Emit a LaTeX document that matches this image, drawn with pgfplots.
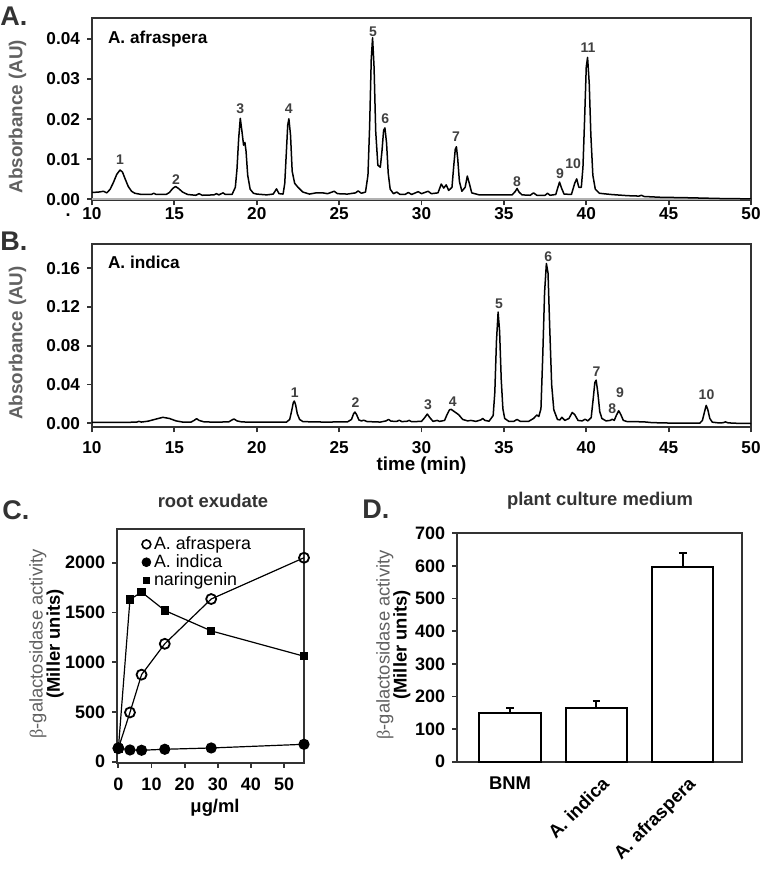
\documentclass[border=0pt]{standalone}
\usepackage{fontspec}
\setmainfont{Liberation Sans}
\newfontfamily\serifgreek{Liberation Serif}
\usepackage{pgfplots}
\pgfplotsset{compat=1.18}
\definecolor{axgray}{gray}{0.2}
\definecolor{labgray}{gray}{0.38}
\definecolor{pkgray}{gray}{0.25}

\pgfplotstableread{
x y
10.0 0.0017
10.4 0.0018
10.7 0.0020
10.9 0.0016
11.1 0.0025
11.3 0.0042
11.5 0.0062
11.7 0.0073
11.85 0.0068
12.0 0.0052
12.2 0.0032
12.4 0.0020
12.6 0.0015
13.0 0.0012
13.6 0.0012
13.75 0.0015
13.9 0.0012
14.5 0.0012
14.7 0.0017
14.9 0.0027
15.07 0.0032
15.25 0.0027
15.5 0.0018
15.8 0.0012
16.3 0.0010
16.5 0.0014
16.7 0.0010
17.4 0.0011
17.55 0.0014
17.7 0.0011
17.95 0.0016
18.1 0.0012
18.5 0.0012
18.7 0.0030
18.8 0.0075
18.9 0.0150
19.0 0.0202
19.1 0.0170
19.2 0.0135
19.28 0.0142
19.35 0.0120
19.45 0.0060
19.6 0.0025
19.8 0.0015
20.0 0.0013
20.6 0.0011
21.0 0.0013
21.2 0.0026
21.35 0.0014
21.6 0.0013
21.7 0.0040
21.8 0.0120
21.88 0.0185
21.95 0.0201
22.05 0.0160
22.15 0.0070
22.3 0.0040
22.5 0.0030
22.8 0.0018
23.2 0.0013
23.6 0.0016
24.0 0.0016
24.3 0.0014
24.7 0.0020
24.9 0.0014
25.5 0.0013
26.0 0.0016
26.15 0.0021
26.35 0.0015
26.6 0.0018
26.75 0.0060
26.85 0.0180
26.95 0.0350
27.03 0.0403
27.12 0.0330
27.22 0.0170
27.35 0.0085
27.5 0.0080
27.6 0.0120
27.7 0.0172
27.78 0.0178
27.88 0.0140
27.98 0.0065
28.1 0.0025
28.3 0.0014
28.5 0.0018
28.7 0.0012
29.0 0.0012
29.2 0.0017
29.4 0.0012
29.8 0.0019
30.0 0.0014
30.4 0.0020
30.6 0.0014
31.0 0.0016
31.2 0.0038
31.35 0.0028
31.5 0.0036
31.65 0.0022
31.85 0.0030
31.95 0.0080
32.05 0.0125
32.12 0.0131
32.2 0.0100
32.3 0.0045
32.45 0.0020
32.65 0.0030
32.78 0.0058
32.9 0.0040
33.05 0.0016
33.5 0.0011
34.5 0.0011
35.5 0.0011
35.7 0.0020
35.8 0.0027
35.92 0.0018
36.1 0.0011
36.6 0.0010
36.8 0.0016
37.0 0.0010
37.5 0.0010
37.65 0.0015
37.8 0.0010
38.15 0.0012
38.28 0.0030
38.38 0.0043
38.48 0.0030
38.65 0.0013
39.1 0.0012
39.3 0.0040
39.42 0.0051
39.55 0.0030
39.7 0.0030
39.8 0.0080
39.9 0.0200
40.0 0.0330
40.08 0.0354
40.18 0.0290
40.28 0.0160
40.4 0.0060
40.55 0.0025
40.8 0.0015
41.5 0.0012
42.5 0.0009
43.2 0.0008
43.35 0.0010
43.5 0.0007
44.5 0.0005
46.0 0.0004
48.0 0.0002
50.0 0.0001
}\afraspera

\pgfplotstableread{
x y
10.0 0.0010
11.0 0.0011
12.0 0.0010
12.7 0.0012
12.85 0.0020
13.0 0.0013
13.4 0.0022
13.8 0.0040
14.3 0.0062
14.7 0.0050
15.1 0.0025
15.5 0.0013
16.0 0.0012
16.2 0.0030
16.35 0.0048
16.5 0.0030
16.8 0.0015
17.5 0.0012
18.3 0.0015
18.5 0.0035
18.62 0.0045
18.8 0.0025
19.1 0.0014
20.0 0.0012
21.0 0.0012
21.8 0.0012
22.0 0.0040
22.12 0.0130
22.22 0.0215
22.28 0.0230
22.36 0.0190
22.46 0.0100
22.6 0.0040
22.8 0.0018
23.5 0.0014
24.5 0.0013
25.0 0.0016
25.5 0.0014
25.75 0.0040
25.88 0.0100
25.96 0.0116
26.06 0.0090
26.2 0.0035
26.35 0.0025
26.5 0.0032
26.7 0.0018
27.5 0.0013
27.85 0.0025
28.0 0.0040
28.15 0.0022
28.5 0.0020
28.65 0.0032
28.8 0.0018
29.1 0.0020
29.25 0.0030
29.4 0.0017
30.0 0.0020
30.2 0.0060
30.35 0.0096
30.5 0.0060
30.7 0.0020
30.95 0.0030
31.1 0.0020
31.4 0.0030
31.55 0.0090
31.7 0.0140
31.8 0.0144
32.0 0.0120
32.25 0.0090
32.5 0.0040
32.8 0.0025
33.0 0.0030
33.3 0.0020
33.6 0.0035
33.72 0.0050
33.85 0.0030
34.1 0.0022
34.35 0.0080
34.45 0.0320
34.55 0.0850
34.65 0.1148
34.74 0.0950
34.84 0.0450
34.94 0.0150
35.05 0.0050
35.3 0.0020
35.6 0.0020
35.8 0.0040
36.0 0.0020
36.5 0.0020
36.8 0.0050
37.0 0.0086
37.12 0.0070
37.25 0.0150
37.36 0.0700
37.47 0.1350
37.58 0.1650
37.68 0.1550
37.78 0.1000
37.9 0.0400
38.03 0.0140
38.25 0.0040
38.4 0.0035
38.52 0.0062
38.7 0.0030
38.95 0.0050
39.15 0.0112
39.3 0.0090
39.5 0.0030
39.75 0.0025
39.93 0.0042
40.1 0.0025
40.3 0.0060
40.42 0.0250
40.52 0.0420
40.6 0.0446
40.7 0.0320
40.82 0.0120
40.95 0.0050
41.2 0.0025
41.45 0.0030
41.58 0.0042
41.7 0.0030
41.82 0.0080
41.97 0.0130
42.1 0.0090
42.25 0.0030
42.5 0.0017
43.0 0.0017
43.5 0.0015
44.0 0.0007
45.0 0.0003
46.0 0.0001
46.9 0.0003
47.05 0.0030
47.18 0.0120
47.28 0.0185
47.38 0.0140
47.5 0.0050
47.65 0.0012
48.0 0.0005
48.3 0.0006
48.45 0.0015
48.6 0.0005
49.0 0.0001
50.0 -0.0002
}\indica

\tikzset{
  pk/.style={font=\fontsize{7}{7}\selectfont\bfseries, text=pkgray, inner sep=0pt, anchor=center},
  betalab/.style={rotate=90, anchor=center, inner sep=0pt, font=\fontsize{9.2}{10}\selectfont, text=labgray},
}

\pgfplotsset{
  chrom/.style={
    scale only axis, anchor=south west, width=329.5pt,
    xmin=10, xmax=50, xtick={10,15,...,50},
    tick pos=left, tick align=outside, major tick length=2.5pt,
    axis line style={draw=axgray, line width=0.9pt},
    every tick/.style={draw=axgray, line width=0.9pt},
    tick label style={font=\fontsize{8.6}{9}\selectfont\bfseries},
    /pgf/number format/assume math mode=true,
    scaled y ticks=false,
    yticklabel style={/pgf/number format/fixed, /pgf/number format/fixed zerofill, /pgf/number format/precision=2},
    ylabel={Absorbance (AU)},
    ylabel style={font=\fontsize{9.4}{10}\selectfont\bfseries, text=labgray, at={(axis description cs:-0.113,0.46)}, anchor=center},
  },
  bar panel/.style={
    scale only axis, anchor=south west, clip=false,
    tick align=outside, major tick length=2.2pt, tick pos=left,
    axis line style={draw=axgray, line width=0.9pt},
    every tick/.style={draw=axgray, line width=0.9pt},
    tick label style={font=\fontsize{9}{9}\selectfont\bfseries},
    /pgf/number format/assume math mode=true,
    /pgf/number format/1000 sep={},
    scaled y ticks=false,
    ylabel={(Miller units)},
    ylabel style={font=\fontsize{9.2}{10}\selectfont\bfseries, anchor=center, inner sep=0pt},
    title style={font=\fontsize{9.2}{10}\selectfont\bfseries, text=axgray, anchor=center},
  }
}

\begin{document}
\begin{tikzpicture}
\path[use as bounding box] (0,0) rectangle (380.5pt,435.5pt);

% Panel letters
\node[anchor=north west, inner sep=0pt, font=\fontsize{13.5}{14}\selectfont\bfseries, text=axgray] at (0pt,432pt) {A.};
\node[anchor=north west, inner sep=0pt, font=\fontsize{13.5}{14}\selectfont\bfseries, text=axgray] at (0pt,319.5pt) {B.};
\node[anchor=north west, inner sep=0pt, font=\fontsize{13.5}{14}\selectfont\bfseries, text=axgray] at (1pt,185.5pt) {C.};
\node[anchor=north west, inner sep=0pt, font=\fontsize{13.5}{14}\selectfont\bfseries, text=axgray] at (181pt,185.5pt) {D.};
\node[inner sep=0pt, font=\fontsize{9}{9}\selectfont\bfseries] at (34pt,328pt) {.};

% ---------------- Panel A ----------------
\begin{axis}[chrom, at={(46pt,335.35pt)}, height=91pt,
  ymin=-0.00025, ymax=0.04516, ytick={0,0.01,...,0.04},
  xticklabel style={yshift=2.4pt}]
\addplot[gray!60, line width=0.8pt, forget plot] coordinates {(10,0) (50,0)};
\addplot[black, line width=0.75pt, line join=round] table[x=x,y=y] {\afraspera};
\node[anchor=west, inner sep=0pt, font=\fontsize{8.6}{9}\selectfont\bfseries] at (axis cs:10.95,0.0400) {A. afraspera};
\node[pk] at (axis cs:11.7,0.0098) {1};
\node[pk] at (axis cs:15.1,0.0050) {2};
\node[pk] at (axis cs:19.0,0.0225) {3};
\node[pk] at (axis cs:21.95,0.0225) {4};
\node[pk] at (axis cs:27.05,0.0418) {5};
\node[pk] at (axis cs:27.8,0.0202) {6};
\node[pk] at (axis cs:32.1,0.0156) {7};
\node[pk] at (axis cs:35.8,0.0044) {8};
\node[pk] at (axis cs:38.4,0.0065) {9};
\node[pk] at (axis cs:39.2,0.0088) {10};
\node[pk] at (axis cs:40.1,0.0378) {11};
\end{axis}

% ---------------- Panel B ----------------
\begin{axis}[chrom, at={(46pt,221.85pt)}, height=91.65pt,
  ymin=-0.0041, ymax=0.1851, ytick={0,0.04,...,0.16},
  xticklabel style={yshift=-1pt},
  xlabel={time (min)},
  xlabel style={font=\fontsize{9.4}{10}\selectfont\bfseries, at={(axis description cs:0.5,-0.211)}, anchor=center}]
\addplot[black, line width=0.75pt, line join=round] table[x=x,y=y] {\indica};
\node[anchor=west, inner sep=0pt, font=\fontsize{8.6}{9}\selectfont\bfseries] at (axis cs:10.95,0.1658) {A. indica};
\node[pk] at (axis cs:22.3,0.0320) {1};
\node[pk] at (axis cs:26.0,0.0216) {2};
\node[pk] at (axis cs:30.4,0.0188) {3};
\node[pk] at (axis cs:31.9,0.0222) {4};
\node[pk] at (axis cs:34.7,0.1233) {5};
\node[pk] at (axis cs:37.7,0.1720) {6};
\node[pk] at (axis cs:40.63,0.0533) {7};
\node[pk] at (axis cs:41.58,0.0155) {8};
\node[pk] at (axis cs:42.05,0.0320) {9};
\node[pk] at (axis cs:47.3,0.0300) {10};
\end{axis}

% ---------------- Panel C ----------------
\begin{axis}[bar panel, at={(58.35pt,53.85pt)}, width=93.65pt, height=117pt,
  xmin=-0.5, xmax=56, ymin=-16, ymax=2336,
  xtick={0,10,...,50}, ytick={0,500,...,2000},
  xticklabel style={yshift=-1.5pt},
  xlabel={μg/ml},
  xlabel style={font=\fontsize{9.2}{10}\selectfont\bfseries, at={(axis description cs:0.525,-0.191)}, anchor=center},
  ylabel style={at={(axis description cs:-0.329,0.51)}},
  title={root exudate},
  title style={at={(axis description cs:0.514,1.07)}},
  legend image code/.code={\draw[#1] plot coordinates {(0pt,0pt)};},
  legend cell align=left,
  legend style={draw=none, fill=none, at={(axis description cs:0.133,0.985)}, anchor=north west,
    font=\fontsize{8.9}{9}\selectfont, inner sep=0pt, row sep=-2.2pt,
    nodes={inner sep=1.6pt}}]
\addlegendimage{only marks, mark=o, mark size=2.2pt, mark options={draw=black, fill=white, line width=0.8pt}}
\addlegendimage{only marks, mark=*, mark size=2.2pt, mark options={draw=black, fill=black}}
\addlegendimage{only marks, mark=square*, mark size=1.5pt, mark options={draw=black, fill=black}}
\legend{A. afraspera, A. indica, naringenin}
\addplot[forget plot, black, line width=0.6pt, mark=square*, mark size=1.8pt, mark options={fill=black}]
  coordinates {(0,130) (3.5,1630) (7,1705) (14,1520) (28,1315) (56,1060)};
\addplot[forget plot, black, line width=0.6pt, mark=o, mark size=2.5pt, mark options={fill=white, line width=0.9pt}]
  coordinates {(0,135) (3.5,495) (7,875) (14,1185) (28,1635) (56,2050)};
\addplot[forget plot, black, line width=0.6pt, mark=*, mark size=2.5pt, mark options={fill=black}]
  coordinates {(0,138) (3.5,118) (7,115) (14,125) (28,138) (56,175)};
\node[betalab] at (axis description cs:-0.42,0.51) {{\serifgreek β}-galactosidase activity};
\end{axis}

% ---------------- Panel D ----------------
\begin{axis}[bar panel, at={(228.35pt,54.65pt)}, width=142.5pt, height=114.2pt,
  xmin=-0.617, xmax=2.682, ymin=0, ymax=700,
  ytick={0,100,...,700},
  xtick={0}, xticklabels={BNM},
  extra x ticks={1,2}, extra x tick labels={A. indica, A. afraspera},
  extra x tick style={xticklabel style={rotate=45, anchor=north east, xshift=3pt}, tick style={draw=none}},
  x tick style={draw=none},
  xticklabel style={font=\fontsize{9.2}{9}\selectfont\bfseries, yshift=-2pt},
  ylabel style={at={(axis description cs:-0.192,0.511)}},
  title={plant culture medium},
  title style={at={(axis description cs:0.503,1.089)}}]
\addplot[ybar, bar width=0.71, fill=white, draw=black, line width=1pt,
  error bars/.cd, y dir=plus, y explicit,
  error bar style={line width=1pt, black},
  error mark options={rotate=90, mark size=1.9pt, line width=1pt, black}]
  coordinates {(0,148) +- (0,18) (1,166) +- (0,21) (2,597) +- (0,44)};
\node[betalab] at (axis description cs:-0.252,0.511) {{\serifgreek β}-galactosidase activity};
\end{axis}
\end{tikzpicture}
\end{document}
